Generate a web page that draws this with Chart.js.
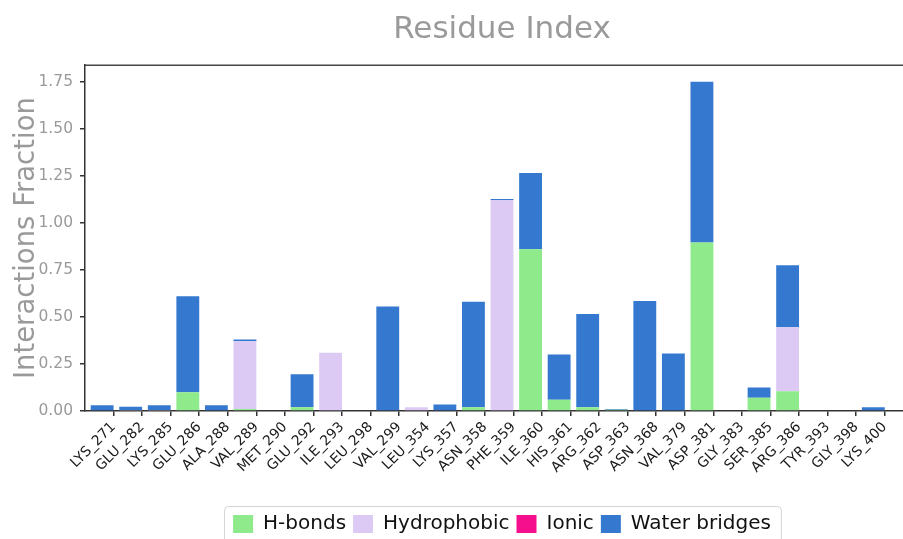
<!DOCTYPE html>
<html>
<head>
<meta charset="utf-8">
<script src="https://cdn.jsdelivr.net/npm/chart.js@4/dist/chart.umd.min.js"></script>
<style>
  html, body { margin: 0; padding: 0; background: #ffffff; overflow: hidden; }
  #frame { width: 903px; height: 539px; overflow: hidden; position: relative; }
  #wrap { width: 1004px; height: 544px; position: absolute; left: 0; top: 0; }
</style>
</head>
<body>
<div id="frame"><div id="wrap"><canvas id="chart" width="1004" height="544"></canvas></div></div>
<script>
// Protein-ligand contact fractions per residue, stacked by interaction type
const residues = [
  'LYS_271', 'GLU_282', 'LYS_285', 'GLU_286', 'ALA_288', 'VAL_289', 'MET_290',
  'GLU_292', 'ILE_293', 'LEU_298', 'VAL_299', 'LEU_354', 'LYS_357', 'ASN_358',
  'PHE_359', 'ILE_360', 'HIS_361', 'ARG_362', 'ASP_363', 'ASN_368', 'VAL_379',
  'ASP_381', 'GLY_383', 'SER_385', 'ARG_386', 'TYR_393', 'GLY_398', 'LYS_400'
];
const hBonds = [
  0, 0, 0, 0.10, 0, 0.01, 0,
  0.02, 0, 0, 0, 0, 0, 0.02,
  0, 0.86, 0.06, 0.02, 0.006, 0, 0,
  0.895, 0, 0.07, 0.105, 0, 0, 0
];
const hydrophobic = [
  0, 0.005, 0.005, 0, 0, 0.36, 0,
  0, 0.31, 0, 0, 0.02, 0, 0,
  1.12, 0, 0, 0, 0, 0, 0,
  0, 0, 0, 0.34, 0, 0, 0
];
const ionic = [
  0, 0, 0, 0, 0, 0, 0,
  0, 0, 0, 0, 0, 0, 0,
  0, 0, 0, 0, 0, 0, 0,
  0, 0, 0, 0, 0, 0, 0
];
const waterBridges = [
  0.03, 0.017, 0.025, 0.51, 0.03, 0.01, 0,
  0.175, 0, 0, 0.555, 0, 0.035, 0.56,
  0.006, 0.405, 0.24, 0.495, 0.004, 0.585, 0.305,
  0.855, 0, 0.055, 0.33, 0, 0, 0.02
];
const yTickValues = [0, 0.25, 0.5, 0.75, 1.0, 1.25, 1.5, 1.75];
const yMax = 1.8375;

const FONT = "'DejaVu Sans', 'Noto Sans', sans-serif";
const GREY = '#9a9a9a';

// each bar sits at its residue index; tick marks sit on the right edge of the bar
const asPoints = values => values.map((v, i) => ({ x: i, y: v }));
const TICK_SHIFT = 0.4;

// frame line along the top of the plot area
const topSpine = {
  id: 'topSpine',
  afterDatasetsDraw(chart) {
    const { ctx, chartArea } = chart;
    ctx.save();
    ctx.strokeStyle = '#444444';
    ctx.lineWidth = 1.5;
    ctx.beginPath();
    ctx.moveTo(chartArea.left, chartArea.top);
    ctx.lineTo(chartArea.right, chartArea.top);
    ctx.stroke();
    ctx.restore();
  }
};

// rounded light frame around the legend entries
const legendFrame = {
  id: 'legendFrame',
  afterDraw(chart) {
    const boxes = chart.legend && chart.legend.legendHitBoxes;
    if (!boxes || !boxes.length) return;
    const left = Math.min(...boxes.map(b => b.left)) - 9;
    const right = Math.max(...boxes.map(b => b.left + b.width)) + 10;
    const top = Math.min(...boxes.map(b => b.top)) - 8;
    const bottom = Math.max(...boxes.map(b => b.top + b.height)) + 12;
    const { ctx } = chart;
    ctx.save();
    ctx.strokeStyle = '#d4d4d4';
    ctx.lineWidth = 1;
    ctx.beginPath();
    ctx.roundRect(left + 0.5, top + 0.5, right - left, bottom - top, 4);
    ctx.stroke();
    ctx.restore();
  }
};

new Chart(document.getElementById('chart'), {
  type: 'bar',
  data: {
    datasets: [
      { label: 'H-bonds', data: asPoints(hBonds), backgroundColor: '#8eea8a' },
      { label: 'Hydrophobic', data: asPoints(hydrophobic), backgroundColor: '#dccaf5' },
      { label: 'Ionic', data: asPoints(ionic), backgroundColor: '#f50f8c' },
      { label: 'Water bridges', data: asPoints(waterBridges), backgroundColor: '#3478cf' }
    ]
  },
  options: {
    responsive: false,
    animation: false,
    devicePixelRatio: 1,
    barPercentage: 0.8,
    categoryPercentage: 1.0,
    layout: { padding: 0 },
    plugins: {
      title: {
        display: true,
        text: 'Residue Index',
        color: GREY,
        font: { family: FONT, size: 31, weight: 'normal' },
        padding: { top: 11, bottom: 17 }
      },
      legend: {
        position: 'bottom',
        labels: {
          color: '#111111',
          font: { family: FONT, size: 20 },
          boxWidth: 20,
          boxHeight: 18,
          padding: 7
        }
      },
      tooltip: { enabled: false }
    },
    scales: {
      x: {
        type: 'linear',
        stacked: true,
        offset: false,
        min: -1 + TICK_SHIFT,
        max: 28.2 + TICK_SHIFT,
        afterBuildTicks(scale) {
          scale.ticks = residues.map((_, i) => ({ value: i + TICK_SHIFT }));
        },
        afterFit(scale) { scale.height = 96; },
        ticks: {
          autoSkip: false,
          minRotation: 45,
          maxRotation: 45,
          padding: 3,
          color: '#1a1a1a',
          font: { family: FONT, size: 14 },
          callback: (value, index) => residues[index]
        },
        grid: {
          drawOnChartArea: false,
          drawTicks: true,
          tickLength: 5,
          offset: false,
          color: '#333333',
          lineWidth: 1.5
        },
        border: { display: true, color: '#333333', width: 1.5 }
      },
      y: {
        stacked: true,
        min: 0,
        max: yMax,
        afterBuildTicks(scale) {
          scale.ticks = yTickValues.map(v => ({ value: v }));
        },
        afterFit(scale) { scale.width = 85; },
        ticks: {
          padding: 7,
          color: GREY,
          font: { family: FONT, size: 15.5 },
          callback: v => Number(v).toFixed(2)
        },
        grid: {
          drawOnChartArea: false,
          drawTicks: true,
          tickLength: 5,
          color: '#333333',
          lineWidth: 1.5
        },
        border: { display: true, color: '#333333', width: 1.5 },
        title: {
          display: true,
          text: 'Interactions Fraction',
          color: GREY,
          font: { family: FONT, size: 27.5 },
          padding: { top: 10, bottom: 0 }
        }
      },
      // empty margin on the right so the plot area and the centred title/legend line up
      yRight: {
        position: 'right',
        display: true,
        min: 0,
        max: yMax,
        afterFit(scale) { scale.width = 85; },
        ticks: { display: false },
        grid: { display: false, drawTicks: false },
        border: { display: false }
      }
    }
  },
  plugins: [topSpine, legendFrame]
});
</script>
</body>
</html>
